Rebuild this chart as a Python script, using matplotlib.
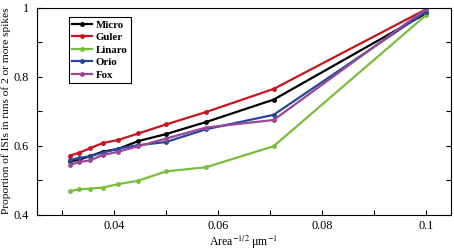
import numpy as np
import matplotlib
matplotlib.use('Agg')
import matplotlib.pyplot as plt
from matplotlib.ticker import MultipleLocator

# Dados
x = [0.0316, 0.0333, 0.0354, 0.0378, 0.0408, 0.0447, 0.0500, 0.0577, 0.0707, 0.1000]

micro = [0.554, 0.559, 0.569, 0.582, 0.590, 0.613, 0.633, 0.668, 0.733, 0.983]
guler = [0.571, 0.579, 0.592, 0.607, 0.616, 0.635, 0.661, 0.697, 0.764, 0.995]
linaro = [0.468, 0.473, 0.475, 0.478, 0.488, 0.498, 0.525, 0.537, 0.598, 0.978]
orio = [0.558, 0.564, 0.569, 0.579, 0.591, 0.601, 0.610, 0.647, 0.689, 0.988]
fox = [0.544, 0.552, 0.557, 0.572, 0.582, 0.598, 0.620, 0.652, 0.674, 0.996]

names = ['Micro', 'Guler', 'Linaro', 'Orio', 'Fox']
series = [micro, guler, linaro, orio, fox]
colors = ['#000000', '#c8141e', '#78be3c', '#27479a', '#9a4796']

plt.rcParams['font.family'] = ['Liberation Serif', 'DejaVu Serif']
plt.rcParams['mathtext.fontset'] = 'stix'

fig = plt.figure(figsize=(4.54, 2.5), dpi=100)
ax = fig.add_axes([0.0815, 0.142, 0.912, 0.828])

for nome, ys, cor in zip(names, series, colors):
    ax.plot(x, ys, color=cor, lw=1.6, marker='o', ms=2.5, label=nome)

ax.set_xlim(0.0252, 0.1048)
ax.set_ylim(0.4, 1.0)
ax.xaxis.set_minor_locator(MultipleLocator(0.01))
ax.yaxis.set_minor_locator(MultipleLocator(0.1))
ax.set_xticks([0.04, 0.06, 0.08, 0.1])
ax.set_xticklabels(['0.04', '0.06', '0.08', '0.1'])
ax.set_yticks([0.4, 0.6, 0.8, 1.0])
ax.set_yticklabels(['0.4', '0.6', '0.8', '1'])
ax.tick_params(which='both', direction='in', length=3.5, width=0.8,
               right=True, top=False, labelsize=8.8)
ax.tick_params(axis='y', pad=6)
ax.tick_params(axis='x', pad=4)

ax.set_xlabel('Area$^{-1/2}$ μm$^{-1}$', fontsize=8.5, labelpad=1)
ax.set_ylabel('Proportion of ISIs in runs of 2 or more spikes', fontsize=8.2)
ax.yaxis.set_label_coords(-0.062, 0.5)

leg = ax.legend(loc='upper left', bbox_to_anchor=(0.077, 0.955), borderaxespad=0,
                fancybox=False, edgecolor='black', framealpha=1,
                prop={'size': 7.8, 'weight': 'bold'}, handlelength=1.8,
                handletextpad=0.4, labelspacing=0.27, borderpad=0.3)
leg.get_frame().set_linewidth(0.8)

plt.savefig('out.png', dpi=100)
